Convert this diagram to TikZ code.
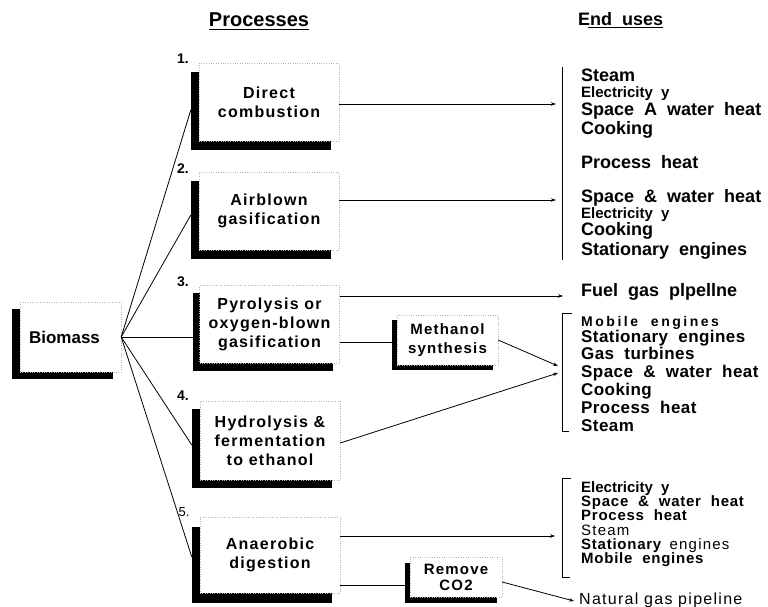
\documentclass[tikz,border=0pt]{standalone}
\usepackage{fontspec}
\setmainfont{Liberation Sans}
\newfontfamily\spaced[LetterSpace=8]{Liberation Sans}
\newfontfamily\wide[LetterSpace=18]{Liberation Sans}
\newfontfamily\tracked[LetterSpace=5]{Liberation Sans}
\newfontfamily\lighttrack[LetterSpace=2.5]{Liberation Sans}
\usetikzlibrary{shadows,calc,arrows.meta}
\begin{document}
\begin{tikzpicture}[x=1pt,y=-1pt,
  pbox/.style={draw=gray!60, dotted, fill=white, inner sep=0pt, align=center,
    font=\spaced\bfseries\fontsize{16}{19}\selectfont},
  sh/.style 2 args={general shadow={fill=black, shadow xshift=#1pt, shadow yshift=#2pt}},
  num/.style={inner sep=0pt, font=\bfseries\fontsize{14}{14}\selectfont},
  eu/.style={anchor=base west, inner sep=0pt, font=\bfseries\fontsize{18}{18}\selectfont},
  eum/.style={anchor=base west, inner sep=0pt, font=\lighttrack\bfseries\fontsize{17}{17}\selectfont},
  eus/.style={anchor=base west, inner sep=0pt, font=\bfseries\fontsize{15}{15}\selectfont},
  euf/.style={anchor=base west, inner sep=0pt, font=\tracked\bfseries\fontsize{15}{15}\selectfont},
  ln/.style={line width=0.8pt},
  arr/.style={line width=0.8pt, -{Stealth[length=5pt,width=3.5pt]}},
  brk/.style={line width=0.7pt}
]
\useasboundingbox (0,0) rectangle (768,606);

% headings
\node[inner sep=0pt, anchor=base, font=\bfseries\fontsize{20}{20}\selectfont] (hp) at (259,26) {Processes};
\draw[line width=1pt] ($(hp.base west)+(0,3)$) -- ($(hp.base east)+(0,3)$);
\node[inner sep=0pt, anchor=base west, font=\bfseries\fontsize{18}{18}\selectfont] (he) at (578,25) {End\ \ uses};
\draw[line width=1pt] ($(he.base west)+(10,2)$) -- ($(he.base east)+(0,2)$);

% biomass
\node[pbox, font=\bfseries\fontsize{17}{20}\selectfont, sh={-8}{-7},
  minimum width=101pt, minimum height=70pt] (bio) at (70.5,337) {Biomass\hspace*{12pt}};

% process boxes
\node[pbox, sh={-8}{-9}, minimum width=140pt, minimum height=78pt] (b1) at (269,102) {Direct\\combustion};
\node[pbox, sh={-8}{-9}, minimum width=140pt, minimum height=78pt] (b2) at (269,211) {Airblown\\gasification};
\node[pbox, sh={-7}{-8}, minimum width=140pt, minimum height=78pt] (b3) at (269.5,324) {Pyrolysis or\\oxygen-blown\\gasification};
\node[pbox, sh={-8}{-8}, minimum width=140pt, minimum height=79pt] (b4) at (270,440.5) {Hydrolysis \&\\fermentation\\to ethanol};
\node[pbox, sh={-8}{-10}, minimum width=140pt, minimum height=76pt] (b5) at (270,555) {Anaerobic\\digestion};
\node[pbox, font=\spaced\bfseries\fontsize{15}{19}\selectfont, sh={-5}{-5},
  minimum width=101pt, minimum height=50pt] (meth) at (447.5,340) {Methanol\\synthesis};
\node[pbox, font=\spaced\bfseries\fontsize{15}{16}\selectfont, sh={-5}{-6},
  minimum width=92pt, minimum height=40pt] (rem) at (456,577) {Remove\\CO2};

% numbers
\node[num] (n1) at (183,59) {1.};
\node[num] (n2) at (183,169) {2.};
\node[num] (n3) at (183,282) {3.};
\node[num] (n4) at (183,396) {4.};
\node[inner sep=0pt, font=\fontsize{13}{13}\selectfont] (n5) at (184,512) {5.};

% fan lines
\draw[ln] (bio.east) -- ($(b1.west)+(-8,8)$);
\draw[ln] (bio.east) -- ($(b2.west)+(-8,4)$);
\draw[ln] (bio.east) -- (b3.west |- bio.east) ;
\draw[ln] (bio.east) -- ($(b4.west)+(-8,4.5)$);
\draw[ln] (bio.east) -- ($(b5.west)+(-8,2)$);

% connectors
\coordinate (t1) at (556,104);
\coordinate (t2) at (556,200);
\coordinate (t3) at (563,296);
\coordinate (m3) at ($(meth.west)+(-5,2)$);
\coordinate (t4a) at (558,366);
\coordinate (t4b) at (558,373);
\coordinate (t5) at (555,536);
\coordinate (r5) at ($(rem.west)+(-5,8)$);
\coordinate (t6) at (574,601);

\draw[arr] (b1.east |- t1) -- (t1);
\draw[arr] (b2.east |- t2) -- (t2);
\draw[arr] (b3.east |- t3) -- (t3);
\draw[ln] (b3.east |- m3) -- (m3);
\draw[arr] (meth.east) -- (t4a);
\draw[arr] ($(b4.east)+(0,2.5)$) -- (t4b);
\draw[arr] (b5.east |- t5) -- (t5);
\draw[ln] (b5.east |- r5) -- (r5);
\draw[arr] ($(rem.east)+(0,5)$) -- (t6);

% brackets
\draw[brk] (562,67) -- (562,260);
\draw[brk] (572,313) -- (562,313) -- (562,431) -- (569,431);
\draw[brk] (571,478) -- (562,478) -- (562,577) -- (570,577);

% end uses group 1-2
\node[eu] (u1) at (581,81) {Steam};
\node[eus] (u2) at (581,97) {Electricity\ \ y};
\node[eu] (u3) at (581,115) {Space\ \ A\ \ water\ \ heat};
\node[eu] (u4) at (581,134) {Cooking};
\node[eu] (u5) at (581,168) {Process\ \ heat};
\node[eu] (u6) at (581,202) {Space\ \ \&\ \ water\ \ heat};
\node[eus] (u7) at (581,218) {Electricity\ \ y};
\node[eu] (u8) at (581,235) {Cooking};
\node[eu] (u9) at (581,255) {Stationary\ \ engines};

% group 3-4
\node[eu] (v0) at (581,296) {Fuel\ \ gas\ \ plpellne};
\node[anchor=base west, inner sep=0pt, font=\wide\bfseries\fontsize{14}{14}\selectfont] (v1) at (581,326) {Mobile\ \ engines};
\node[eum] (v2) at (581,342) {Stationary\ \ engines};
\node[eum] (v3) at (581,359) {Gas\ \ turbines};
\node[eum] (v4) at (581,377) {Space\ \ \&\ \ water\ \ heat};
\node[eum] (v5) at (581,395) {Cooking};
\node[eum] (v6) at (581,413) {Process\ \ heat};
\node[eum] (v7) at (581,431) {Steam};

% group 5
\node[eus] (w1) at (581,492) {Electricity\ \ y};
\node[euf] (w2) at (581,506) {Space\ \ \&\ \ water\ \ heat};
\node[euf] (w3) at (581,520) {Process\ \ heat};
\node[anchor=base west, inner sep=0pt, font=\spaced\fontsize{15}{15}\selectfont] (w4) at (581,535) {Steam};
\node[anchor=base west, inner sep=0pt, font=\fontsize{15}{15}\selectfont] (w5) at (581,549) {{\tracked\bfseries Stationary}\ \ {\spaced engines}};
\node[euf] (w6) at (581,563) {Mobile\ \ engines};
\node[anchor=base west, inner sep=0pt, font=\spaced\fontsize{16}{16}\selectfont] (w7) at (579,604) {Natural\ gas\ pipeline};
\end{tikzpicture}
\end{document}
